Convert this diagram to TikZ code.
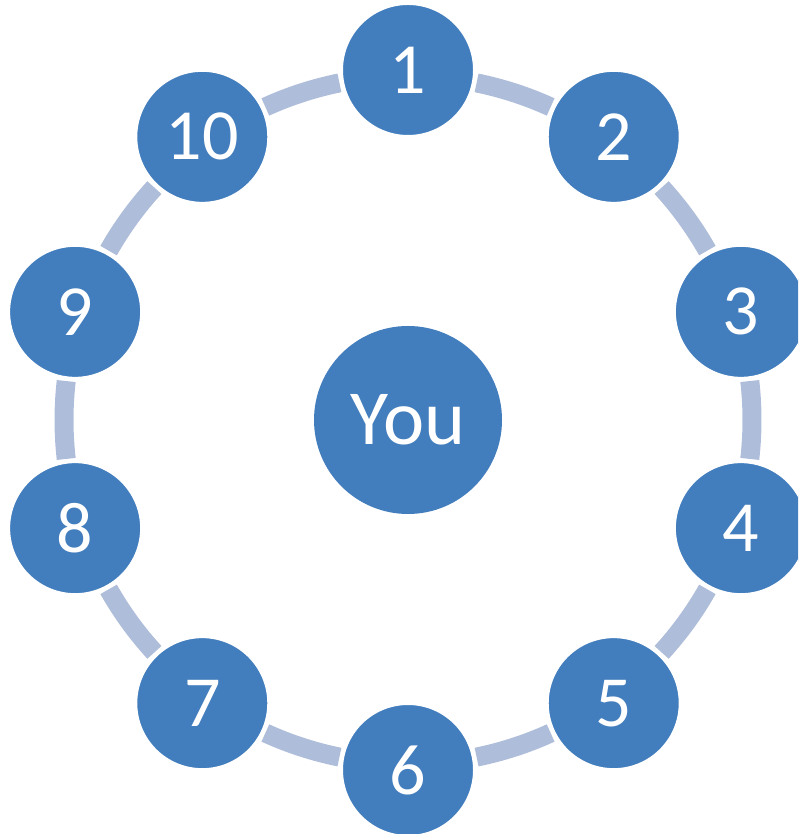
\documentclass[tikz,border=0pt]{standalone}
\usepackage{fontspec}
\setmainfont{Carlito}
\usetikzlibrary{calc}
\definecolor{nodeblue}{HTML}{427DBD}
\definecolor{ringblue}{HTML}{AEBDDA}
\begin{document}
\begin{tikzpicture}[x=1pt,y=1pt,
  member/.style={circle,fill=nodeblue,draw=white,line width=2pt,minimum size=132pt,inner sep=0pt,text=white,font=\fontsize{72}{72}\selectfont},
  centre/.style={circle,fill=nodeblue,minimum size=188pt,inner sep=0pt,text=white,font=\fontsize{78}{78}\selectfont},
  ring/.style={draw=ringblue,line width=19pt,line cap=butt}]
\useasboundingbox (0,0) rectangle (798,834);
\clip (0,0) rectangle (798,834);
\coordinate (c) at (408,414);
\foreach \i in {1,...,10}{
  \pgfmathsetmacro{\sa}{90-(\i-1)*36-11.5}
  \pgfmathsetmacro{\ea}{90-\i*36+11.5}
  \draw[ring] ($(c)+(\sa:344pt)$) arc[start angle=\sa, end angle=\ea, radius=344pt];
}
\node[centre] (you) at (c) {You};
\foreach \i in {1,...,10}{
  \pgfmathsetmacro{\ang}{90-(\i-1)*36}
  \node[member] (n\i) at ($(c)+(\ang:350pt)$) {\i};
}
\end{tikzpicture}
\end{document}
